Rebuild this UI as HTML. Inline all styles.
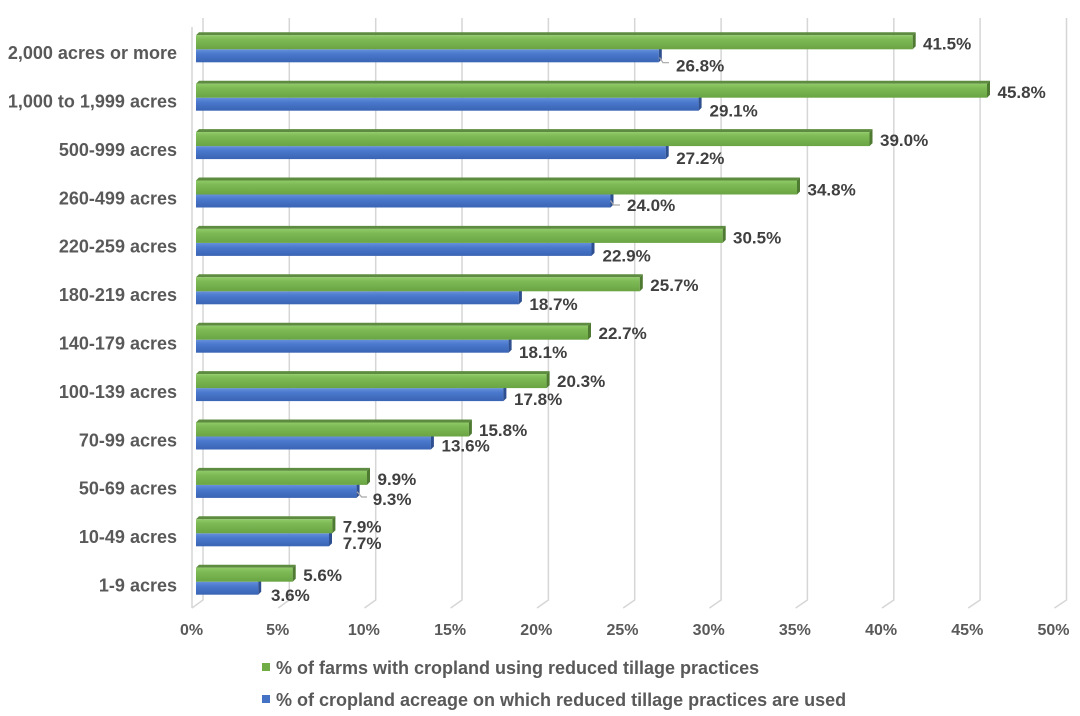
<!DOCTYPE html>
<html>
<head>
<meta charset="utf-8">
<style>
html,body{margin:0;padding:0;background:#fff;}
svg{display:block;}
text{font-family:"Liberation Sans",Arial,sans-serif;font-weight:bold;}
.cat{font-size:18px;fill:#595959;text-anchor:end;}
.tick{font-size:16px;fill:#595959;text-anchor:middle;}
.val{font-size:17px;fill:#404040;}
.leg{font-size:18px;fill:#595959;}
</style>
</head>
<body>
<svg width="1080" height="716" viewBox="0 0 1080 716" xmlns="http://www.w3.org/2000/svg">
<defs>
<linearGradient id="gg" x1="0" y1="0" x2="0" y2="1">
<stop offset="0" stop-color="#8fca67"/>
<stop offset="0.3" stop-color="#7dba55"/>
<stop offset="1" stop-color="#6aa443"/>
</linearGradient>
<linearGradient id="bg" x1="0" y1="0" x2="0" y2="1">
<stop offset="0" stop-color="#6690dc"/>
<stop offset="0.35" stop-color="#4a78cc"/>
<stop offset="1" stop-color="#3a64b4"/>
</linearGradient>
</defs>

<!-- gridlines -->
<g stroke="#d6d6d6" stroke-width="1.5" fill="none">
<line x1="192" y1="27" x2="192" y2="608"/>
<polyline points="203,18 203,600 192,608"/>
<polyline points="289.3,18 289.3,600 278.2,608"/>
<polyline points="375.7,18 375.7,600 364.5,608"/>
<polyline points="462,18 462,600 450.7,608"/>
<polyline points="548.4,18 548.4,600 537,608"/>
<polyline points="634.7,18 634.7,600 623.2,608"/>
<polyline points="721.1,18 721.1,600 709.5,608"/>
<polyline points="807.4,18 807.4,600 795.7,608"/>
<polyline points="893.8,18 893.8,600 882,608"/>
<polyline points="980.1,18 980.1,600 968.2,608"/>
<polyline points="1066.5,18 1066.5,600 1054.5,608"/>
</g>

<!-- bars -->
<g id="bars">
<!-- group 0 t=32.3 g=912.7 b=658.8 -->
<rect x="196" y="49.3" width="462.8" height="13" fill="url(#bg)"/>
<polygon points="658.8,49.3 661.8,46.3 661.8,59.3 658.8,62.3" fill="#2e4f90"/>
<polygon points="196,35.3 912.7,35.3 915.7,32.3 199,32.3" fill="#5d8b3f"/>
<rect x="196" y="35.3" width="716.7" height="14" fill="url(#gg)"/>
<polygon points="912.7,35.3 915.7,32.3 915.7,46.3 912.7,49.3" fill="#4e7a32"/>

<!-- group 1 t=80.7 g=987.0 b=698.6 -->
<rect x="196" y="97.7" width="502.6" height="13" fill="url(#bg)"/>
<polygon points="698.6,97.7 701.6,94.7 701.6,107.7 698.6,110.7" fill="#2e4f90"/>
<polygon points="196,83.7 987,83.7 990,80.7 199,80.7" fill="#5d8b3f"/>
<rect x="196" y="83.7" width="791" height="14" fill="url(#gg)"/>
<polygon points="987,83.7 990,80.7 990,94.7 987,97.7" fill="#4e7a32"/>

<!-- group 2 t=129.1 g=869.5 b=665.7 -->
<rect x="196" y="146.1" width="469.7" height="13" fill="url(#bg)"/>
<polygon points="665.7,146.1 668.7,143.1 668.7,156.1 665.7,159.1" fill="#2e4f90"/>
<polygon points="196,132.1 869.5,132.1 872.5,129.1 199,129.1" fill="#5d8b3f"/>
<rect x="196" y="132.1" width="673.5" height="14" fill="url(#gg)"/>
<polygon points="869.5,132.1 872.5,129.1 872.5,143.1 869.5,146.1" fill="#4e7a32"/>

<!-- group 3 t=177.5 g=797.0 b=610.5 -->
<rect x="196" y="194.5" width="414.5" height="13" fill="url(#bg)"/>
<polygon points="610.5,194.5 613.5,191.5 613.5,204.5 610.5,207.5" fill="#2e4f90"/>
<polygon points="196,180.5 797,180.5 800,177.5 199,177.5" fill="#5d8b3f"/>
<rect x="196" y="180.5" width="601" height="14" fill="url(#gg)"/>
<polygon points="797,180.5 800,177.5 800,191.5 797,194.5" fill="#4e7a32"/>

<!-- group 4 t=225.9 g=722.7 b=591.5 -->
<rect x="196" y="242.9" width="395.5" height="13" fill="url(#bg)"/>
<polygon points="591.5,242.9 594.5,239.9 594.5,252.9 591.5,255.9" fill="#2e4f90"/>
<polygon points="196,228.9 722.7,228.9 725.7,225.9 199,225.9" fill="#5d8b3f"/>
<rect x="196" y="228.9" width="526.7" height="14" fill="url(#gg)"/>
<polygon points="722.7,228.9 725.7,225.9 725.7,239.9 722.7,242.9" fill="#4e7a32"/>

<!-- group 5 t=274.3 g=639.8 b=518.9 -->
<rect x="196" y="291.3" width="322.9" height="13" fill="url(#bg)"/>
<polygon points="518.9,291.3 521.9,288.3 521.9,301.3 518.9,304.3" fill="#2e4f90"/>
<polygon points="196,277.3 639.8,277.3 642.8,274.3 199,274.3" fill="#5d8b3f"/>
<rect x="196" y="277.3" width="443.8" height="14" fill="url(#gg)"/>
<polygon points="639.8,277.3 642.8,274.3 642.8,288.3 639.8,291.3" fill="#4e7a32"/>

<!-- group 6 t=322.7 g=588.0 b=508.6 -->
<rect x="196" y="339.7" width="312.6" height="13" fill="url(#bg)"/>
<polygon points="508.6,339.7 511.6,336.7 511.6,349.7 508.6,352.7" fill="#2e4f90"/>
<polygon points="196,325.7 588,325.7 591,322.7 199,322.7" fill="#5d8b3f"/>
<rect x="196" y="325.7" width="392" height="14" fill="url(#gg)"/>
<polygon points="588,325.7 591,322.7 591,336.7 588,339.7" fill="#4e7a32"/>

<!-- group 7 t=371.1 g=546.6 b=503.4 -->
<rect x="196" y="388.1" width="307.4" height="13" fill="url(#bg)"/>
<polygon points="503.4,388.1 506.4,385.1 506.4,398.1 503.4,401.1" fill="#2e4f90"/>
<polygon points="196,374.1 546.6,374.1 549.6,371.1 199,371.1" fill="#5d8b3f"/>
<rect x="196" y="374.1" width="350.6" height="14" fill="url(#gg)"/>
<polygon points="546.6,374.1 549.6,371.1 549.6,385.1 546.6,388.1" fill="#4e7a32"/>

<!-- group 8 t=419.5 g=468.9 b=430.9 -->
<rect x="196" y="436.5" width="234.9" height="13" fill="url(#bg)"/>
<polygon points="430.9,436.5 433.9,433.5 433.9,446.5 430.9,449.5" fill="#2e4f90"/>
<polygon points="196,422.5 468.9,422.5 471.9,419.5 199,419.5" fill="#5d8b3f"/>
<rect x="196" y="422.5" width="272.9" height="14" fill="url(#gg)"/>
<polygon points="468.9,422.5 471.9,419.5 471.9,433.5 468.9,436.5" fill="#4e7a32"/>

<!-- group 9 t=467.9 g=367.0 b=356.6 -->
<rect x="196" y="484.9" width="160.6" height="13" fill="url(#bg)"/>
<polygon points="356.6,484.9 359.6,481.9 359.6,494.9 356.6,497.9" fill="#2e4f90"/>
<polygon points="196,470.9 367,470.9 370,467.9 199,467.9" fill="#5d8b3f"/>
<rect x="196" y="470.9" width="171" height="14" fill="url(#gg)"/>
<polygon points="367,470.9 370,467.9 370,481.9 367,484.9" fill="#4e7a32"/>

<!-- group 10 t=516.3 g=332.4 b=329.0 -->
<rect x="196" y="533.3" width="133" height="13" fill="url(#bg)"/>
<polygon points="329,533.3 332,530.3 332,543.3 329,546.3" fill="#2e4f90"/>
<polygon points="196,519.3 332.4,519.3 335.4,516.3 199,516.3" fill="#5d8b3f"/>
<rect x="196" y="519.3" width="136.4" height="14" fill="url(#gg)"/>
<polygon points="332.4,519.3 335.4,516.3 335.4,530.3 332.4,533.3" fill="#4e7a32"/>

<!-- group 11 t=564.7 g=292.7 b=258.2 -->
<rect x="196" y="581.7" width="62.2" height="13" fill="url(#bg)"/>
<polygon points="258.2,581.7 261.2,578.7 261.2,591.7 258.2,594.7" fill="#2e4f90"/>
<polygon points="196,567.7 292.7,567.7 295.7,564.7 199,564.7" fill="#5d8b3f"/>
<rect x="196" y="567.7" width="96.7" height="14" fill="url(#gg)"/>
<polygon points="292.7,567.7 295.7,564.7 295.7,578.7 292.7,581.7" fill="#4e7a32"/>
</g>

<!-- leader lines -->
<g stroke="#a6a6a6" stroke-width="1.2" fill="none">
<polyline points="659.5,57.5 663,62.7 669,62.7"/>
<polyline points="610.5,200.5 613.5,205 620,205"/>
<polyline points="357,491.7 361.7,497 367,497"/>
</g>

<!-- category labels -->
<g class="cat">
<text x="177" y="59.1">2,000 acres or more</text>
<text x="177" y="107.5">1,000 to 1,999 acres</text>
<text x="177" y="155.9">500-999 acres</text>
<text x="177" y="204.3">260-499 acres</text>
<text x="177" y="252.7">220-259 acres</text>
<text x="177" y="301.1">180-219 acres</text>
<text x="177" y="349.5">140-179 acres</text>
<text x="177" y="397.9">100-139 acres</text>
<text x="177" y="446.3">70-99 acres</text>
<text x="177" y="494.7">50-69 acres</text>
<text x="177" y="543.1">10-49 acres</text>
<text x="177" y="591.5">1-9 acres</text>
</g>

<!-- value labels green -->
<g class="val">
<text x="923" y="49.5">41.5%</text>
<text x="997.5" y="98">45.8%</text>
<text x="880" y="146">39.0%</text>
<text x="807.5" y="195.5">34.8%</text>
<text x="733" y="243.4">30.5%</text>
<text x="650.3" y="291">25.7%</text>
<text x="598.5" y="339">22.7%</text>
<text x="557" y="387">20.3%</text>
<text x="479" y="436">15.8%</text>
<text x="377.5" y="485">9.9%</text>
<text x="342.7" y="532.7">7.9%</text>
<text x="303.2" y="581">5.6%</text>
</g>
<!-- value labels blue -->
<g class="val">
<text x="676" y="71.5">26.8%</text>
<text x="709.5" y="116.7">29.1%</text>
<text x="676.2" y="164">27.2%</text>
<text x="627" y="211">24.0%</text>
<text x="602.5" y="261.3">22.9%</text>
<text x="529.4" y="310">18.7%</text>
<text x="519" y="358">18.1%</text>
<text x="514" y="405">17.8%</text>
<text x="441.5" y="451.5">13.6%</text>
<text x="372.7" y="505">9.3%</text>
<text x="342.7" y="549">7.7%</text>
<text x="271" y="601">3.6%</text>
</g>

<!-- ticks -->
<g class="tick">
<text x="191.5" y="635">0%</text>
<text x="277.7" y="635">5%</text>
<text x="363.9" y="635">10%</text>
<text x="450.1" y="635">15%</text>
<text x="536.3" y="635">20%</text>
<text x="622.5" y="635">25%</text>
<text x="708.7" y="635">30%</text>
<text x="794.9" y="635">35%</text>
<text x="881.1" y="635">40%</text>
<text x="967.3" y="635">45%</text>
<text x="1053.5" y="635">50%</text>
</g>

<!-- legend -->
<rect x="262" y="663" width="8" height="8" fill="#70ad47"/>
<text class="leg" x="276" y="674">% of farms with cropland using reduced tillage practices</text>
<rect x="262" y="695" width="8" height="8" fill="#4472c4"/>
<text class="leg" x="276" y="706">% of cropland acreage on which reduced tillage practices are used</text>
</svg>
</body>
</html>
